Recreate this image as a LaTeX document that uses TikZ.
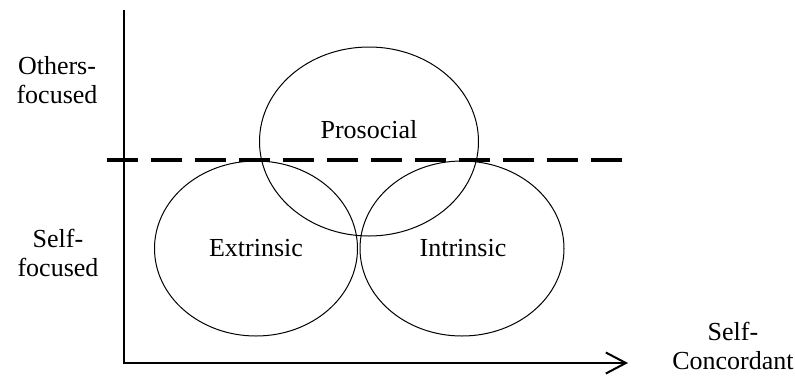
\documentclass[tikz,border=0pt]{standalone}
\usepackage{fontspec}
\setmainfont{Liberation Serif}
\usetikzlibrary{shapes.geometric,arrows.meta}
\tikzset{
  circ/.style={ellipse, draw, line width=1pt, inner sep=0pt},
  lbl/.style={align=center, font=\fontsize{26}{29}\selectfont},
  axis/.style={line width=2pt},
  divider/.style={line width=4pt, dash pattern=on 31pt off 13pt}
}
\begin{document}
\begin{tikzpicture}[x=1pt,y=-1pt]
\useasboundingbox (0,0) rectangle (795,376);
\coordinate (ytop) at (124,10);
\coordinate (xend) at (628,363);
\coordinate (dl) at (107,160);
\coordinate (dr) at (625,160);
\draw[axis, -{Straight Barb[length=20pt,width=21pt,line width=2pt]}] (ytop) |- (xend);
\draw[divider] (dl) -- (dr);
\node[circ, minimum width=219pt, minimum height=189pt] (pro) at (369,141.5) {};
\node[circ, minimum width=203pt, minimum height=175pt] (ext) at (256,248.5) {};
\node[circ, minimum width=204pt, minimum height=175pt] (int) at (462,248.5) {};
\node[lbl] (protext) at (369,130) {Prosocial};
\node[lbl] (exttext) at (256,248) {Extrinsic};
\node[lbl] (inttext) at (463,248) {Intrinsic};
\node[lbl] (others) at (57,80) {Others-\\focused};
\node[lbl] (selff) at (58,253) {Self-\\focused};
\node[lbl] (selfc) at (733,346) {Self-\\Concordant};
\end{tikzpicture}
\end{document}
